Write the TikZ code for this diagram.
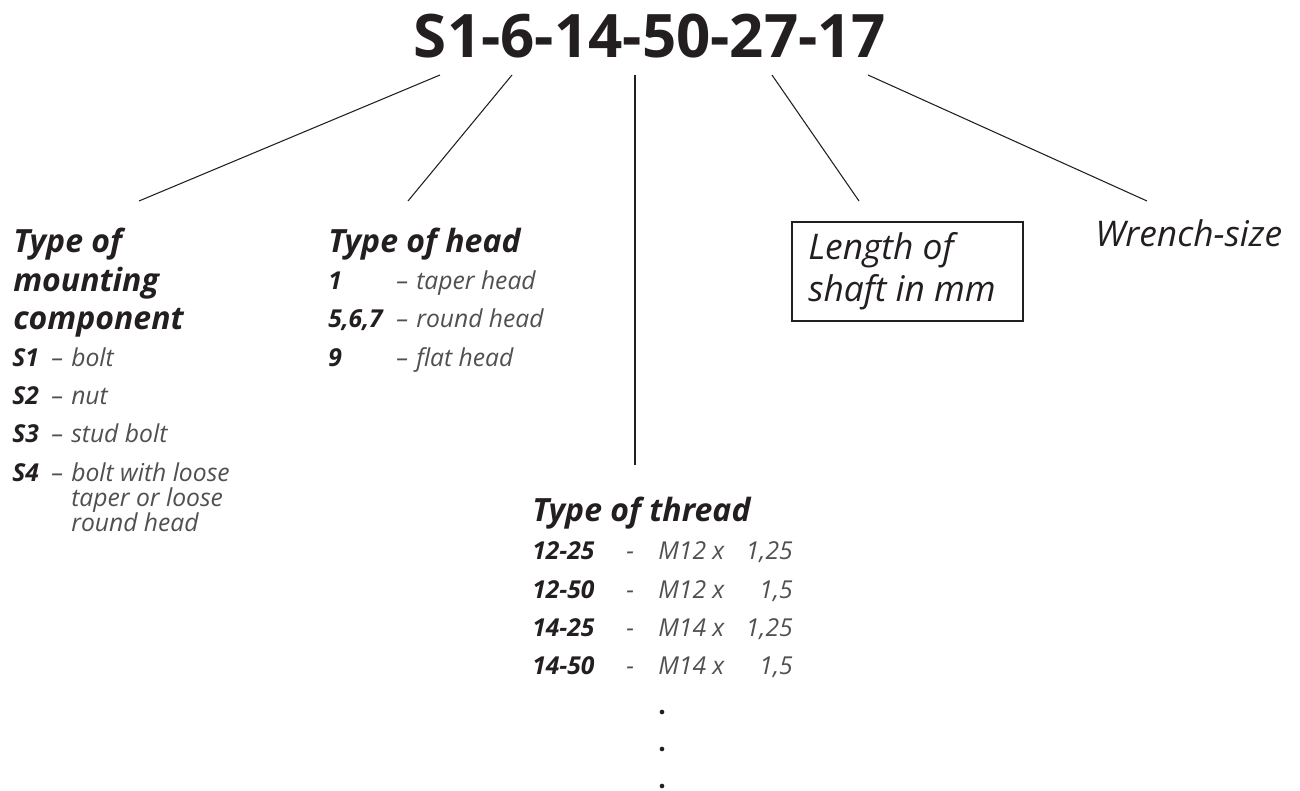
\documentclass[tikz,border=0pt]{standalone}
\usepackage{fontspec}
\setmainfont{Open Sans}
\usepackage{tikz}

\definecolor{ink}{HTML}{231F20}
\definecolor{greyink}{HTML}{505050}

\tikzset{
  heading/.style={anchor=base west,inner sep=0.75pt,text=ink,font=\fontsize{24}{28}\selectfont\bfseries\itshape},
  plainhead/.style={anchor=base west,inner sep=0.75pt,text=ink,font=\fontsize{26.5}{30}\selectfont\itshape},
  code/.style={anchor=base west,inner sep=0.75pt,text=ink,font=\fontsize{18.5}{22}\selectfont\bfseries\itshape},
  descr/.style={anchor=base west,inner sep=0.75pt,text=greyink,font=\fontsize{18.5}{22}\selectfont\itshape},
  leader/.style={draw=ink,line width=0.8pt},
  dot/.style={circle,fill=ink,inner sep=0pt,minimum size=3.5},
}

\begin{document}
\begin{tikzpicture}[x=0.75pt,y=0.75pt,yscale=-1,xscale=1]
\useasboundingbox (0,0) rectangle (1300,791);

% Text Node
\draw (650,58) node (title) [anchor=base][inner sep=0.75pt] [text=ink,font=\fontsize{45}{50}\selectfont\bfseries] {S1-6-14-50-27-17};

%Coordinates [leader ends]
\coordinate (tS) at (440,75);
\coordinate (tHead) at (512,75);
\coordinate (tThread) at (635,75);
\coordinate (tLength) at (772,75);
\coordinate (tWrench) at (868,75);
\coordinate (bS) at (139,201);
\coordinate (bHead) at (408,201);
\coordinate (bThread) at (635,465);
\coordinate (bLength) at (859,201);
\coordinate (bWrench) at (1147,201);

%Straight Lines
\draw [leader] (tS) -- (bS);
\draw [leader] (tHead) -- (bHead);
\draw [leader] (tThread) -- (bThread);
\draw [leader] (tLength) -- (bLength);
\draw [leader] (tWrench) -- (bWrench);

% Text Node
\draw (12,253) node (mountA) [heading] {Type of};
\draw (12,292) node (mountB) [heading] {mounting};
\draw (12,330) node (mountC) [heading] {component};
% Text Node
\draw (11,367) node (sA) [code] {S1};
\draw (50,367) node (sAd) [descr] {–};
\draw (70,367) node (sAt) [descr] {bolt};
\draw (11,405) node (sB) [code] {S2};
\draw (50,405) node (sBd) [descr] {–};
\draw (70,405) node (sBt) [descr] {nut};
\draw (11,443) node (sC) [code] {S3};
\draw (50,443) node (sCd) [descr] {–};
\draw (70,443) node (sCt) [descr] {stud bolt};
\draw (11,482) node (sD) [code] {S4};
\draw (50,482) node (sDd) [descr] {–};
\draw (70,482) node (sDt) [descr] {bolt with loose};
\draw (70,507) node (sDt2) [descr] {taper or loose};
\draw (70,532) node (sDt3) [descr] {round head};

% Text Node
\draw (327,253) node (headT) [heading] {Type of head};
\draw (327,290) node (hA) [code] {1};
\draw (395,290) node (hAd) [descr] {–};
\draw (415,290) node (hAt) [descr] {taper head};
\draw (327,328) node (hB) [code] {5,6,7};
\draw (395,328) node (hBd) [descr] {–};
\draw (415,328) node (hBt) [descr] {round head};
\draw (327,367) node (hC) [code] {9};
\draw (395,367) node (hCd) [descr] {–};
\draw (415,367) node (hCt) [descr] {flat head};

% Text Node
\draw (531,522) node (threadT) [heading] {Type of thread};
\draw (531,559) node (thA) [code] {12-25};
\draw (625,559) node (thAd) [descr] {-};
\draw (657,559) node (thAm) [descr] {M12 x};
\draw (794,559) node (thAv) [descr,anchor=base east] {1,25};
\draw (531,598) node (thB) [code] {12-50};
\draw (625,598) node (thBd) [descr] {-};
\draw (657,598) node (thBm) [descr] {M12 x};
\draw (794,598) node (thBv) [descr,anchor=base east] {1,5};
\draw (531,636) node (thC) [code] {14-25};
\draw (625,636) node (thCd) [descr] {-};
\draw (657,636) node (thCm) [descr] {M14 x};
\draw (794,636) node (thCv) [descr,anchor=base east] {1,25};
\draw (531,674) node (thD) [code] {14-50};
\draw (625,674) node (thDd) [descr] {-};
\draw (657,674) node (thDm) [descr] {M14 x};
\draw (794,674) node (thDv) [descr,anchor=base east] {1,5};

%Shape: Dots
\node (dotA) [dot] at (662,712) {};
\node (dotB) [dot] at (662,749) {};
\node (dotC) [dot] at (662,786) {};

%Shape: Rectangle
\draw [draw=ink,line width=0.8pt] (792,222) rectangle (1023,321);
% Text Node
\draw (807,260) node (lenA) [plainhead] {Length of};
\draw (807,302) node (lenB) [plainhead] {shaft in mm};

% Text Node
\draw (1094,247) node (wrench) [plainhead] {Wrench-size};

\end{tikzpicture}
\end{document}
